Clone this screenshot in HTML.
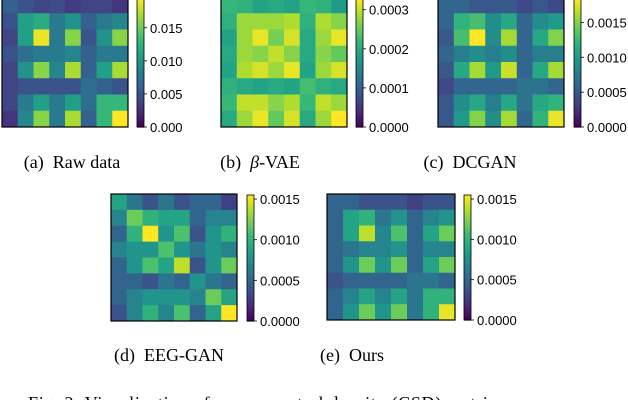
<!DOCTYPE html>
<html><head><meta charset="utf-8"><style>
html,body{margin:0;padding:0;background:#fff;width:628px;height:400px;overflow:hidden}
svg{display:block}
.cap{font-family:"Liberation Serif",serif;font-size:18px;fill:#000}
.tk{font-family:"Liberation Sans",sans-serif;font-size:13px;fill:#000}
</style></head><body>
<svg id="fig" width="628" height="400" xmlns="http://www.w3.org/2000/svg"></svg>
<script>
const rawData=[[.006,.005,.004,.0045,.0035,.004,.004,.003],[.005,.011,.012,.008,.010,.006,.008,.009],[.004,.011,.019,.008,.016,.005,.010,.016],[.005,.007,.008,.008,.009,.006,.008,.008],[.004,.010,.016,.009,.017,.006,.011,.017],[.004,.005,.005,.005,.005,.007,.006,.005],[.004,.008,.011,.008,.011,.007,.013,.013],[.003,.009,.016,.008,.017,.006,.013,.0195]];
const vaeData=[[.00022,.00021,.00019,.0002,.00019,.00022,.00021,.00018],[.00021,.00028,.00028,.00028,.00029,.00021,.00029,.00027],[.00019,.00028,.00032,.00026,.00031,.0002,.00028,.00032],[.0002,.00028,.00027,.0003,.00027,.0002,.00027,.00025],[.00019,.00029,.00031,.00028,.00032,.00019,.00028,.00031],[.00021,.0002,.00019,.0002,.00019,.00023,.00021,.0002],[.00022,.0003,.0003,.00027,.00029,.00022,.0003,.00028],[.0002,.00028,.00032,.00025,.00031,.0002,.00028,.00033]];
const dcganData=[[.0006,.0006,.0005,.0005,.0005,.0004,.0005,.0004],[.0006,.0012,.0013,.0009,.0011,.0006,.0009,.001],[.0005,.0013,.00185,.0009,.0016,.0006,.0011,.0015],[.0006,.0008,.0009,.0008,.0009,.0006,.0008,.0008],[.0005,.0011,.0016,.001,.0017,.0006,.0011,.0016],[.0004,.0006,.0006,.0006,.0006,.0007,.0007,.0006],[.0005,.0009,.0011,.0008,.0011,.0007,.0011,.0012],[.0005,.001,.0015,.0009,.0016,.0006,.0012,.0018]];
const eegganData=[[.0009,.0006,.0004,.0006,.0004,.0005,.0005,.0003],[.0007,.0012,.001,.0009,.0009,.0005,.0007,.0007],[.0005,.001,.00155,.0008,.0011,.0004,.0008,.001],[.0007,.0008,.0008,.0011,.0008,.0006,.0008,.0007],[.0005,.0008,.0011,.0009,.0014,.0004,.0008,.0012],[.0005,.0005,.0004,.0006,.0005,.0008,.0006,.0005],[.0005,.0007,.0008,.0008,.0008,.0007,.0012,.0009],[.0004,.0007,.001,.0007,.0011,.0005,.0009,.00155]];
const oursData=[[.0005,.0005,.0004,.0004,.0004,.0003,.0004,.0004],[.0005,.0009,.001,.0006,.0008,.0005,.0007,.0008],[.0005,.0009,.0014,.0007,.0011,.0005,.0009,.0012],[.0005,.0006,.0007,.0007,.0008,.0005,.0007,.0007],[.0005,.0008,.0012,.0008,.0012,.0005,.0009,.0012],[.0004,.0005,.0005,.0005,.0005,.0006,.0006,.0005],[.0005,.0007,.0009,.0007,.0009,.0006,.001,.001],[.0005,.0008,.0012,.0008,.0012,.0006,.001,.0015]];
const rawTicks=["0.000","0.005","0.010","0.015"];
const vaeTicks=["0.0000","0.0001","0.0002","0.0003"];
const ganTicks=["0.0000","0.0005","0.0010","0.0015"];
const vmaxes=[0.0195,0.00033,0.00185,0.00155,0.00155];

const VIR=[[68,1,84],[72,40,120],[62,74,137],[49,104,142],[38,130,142],[31,158,137],[53,183,121],[109,205,89],[180,222,44],[253,231,37]];
function viridis(t){t=Math.max(0,Math.min(1,t));const f=t*(VIR.length-1),i=Math.min(Math.floor(f),VIR.length-2),r=f-i;
const c=VIR[i].map((v,k)=>Math.round(v+(VIR[i+1][k]-v)*r));return `rgb(${c})`;}
const NS="http://www.w3.org/2000/svg",svg=document.getElementById('fig');
function el(t,a,p){const e=document.createElementNS(NS,t);for(const k in a)e.setAttribute(k,a[k]);(p||svg).appendChild(e);return e;}
function panel(name,data,ticks,vmax,x0,y0,x1,y1,cbx,cap,capX,capY){
 const g=el('g',{});
 
 
 const n=data.length,cw=(x1-x0)/n,ch=(y1-y0)/n;
 data.forEach((row,r)=>row.forEach((v,c)=>{
  const rc=el('rect',{x:x0+c*cw,y:y0+r*ch,width:cw+0.5,height:ch+0.5,fill:viridis(v/vmax)},g);
  
  
 }));
 const fr=el('rect',{x:x0,y:y0,width:x1-x0,height:y1-y0,fill:'none',stroke:'#000','stroke-width':1.2},g);
 
 
 const cb=el('g',{},g);
 
 
 const cbT=y0+1,cbB=y1,cbw=7;
 for(let i=0;i<60;i++){const t=i/60;el('rect',{x:cbx,y:cbB-(i+1)*(cbB-cbT)/60,width:cbw,height:(cbB-cbT)/60+0.6,fill:viridis(t+0.5/60)},cb);}
 el('rect',{x:cbx,y:cbT,width:cbw,height:cbB-cbT,fill:'none',stroke:'#000','stroke-width':0.8},cb);
 ticks.forEach(s=>{const v=parseFloat(s),y=cbB-(v/vmax)*(cbB-cbT);
  el('line',{x1:cbx+cbw,x2:cbx+cbw+3,y1:y,y2:y,stroke:'#000','stroke-width':0.8},cb);
  const t=el('text',{x:cbx+cbw+6,y:y+5,class:'tk'},cb);t.textContent=s;
  
  });
 const ct=el('text',{x:capX,y:capY,class:'cap','text-anchor':'middle'},g);ct.innerHTML=cap;
 
 
}
panel('raw-data',rawData,rawTicks,vmaxes[0],2,-3,128,127,137,'(a)&#160; Raw data',72,168);
panel('beta-vae',vaeData,vaeTicks,vmaxes[1],221,-3,347,127,356,'(b)&#160; <tspan font-style="italic">β</tspan>-VAE',260,168);
panel('dcgan',dcganData,ganTicks,vmaxes[2],438,-3,564,127,574,'(c)&#160; DCGAN',470,168);
panel('eeg-gan',eegganData,ganTicks,vmaxes[3],111,194,237,321,247,'(d)&#160; EEG-GAN',169,361);
panel('ours',oursData,ganTicks,vmaxes[4],327,194,455,320,464,'(e)&#160; Ours',352,361);
const fc=el('text',{x:28,y:409,class:'cap',textLength:485,lengthAdjust:'spacing'});fc.textContent='Fig. 2:  Visualization of cross-spectral density (CSD) matrices';


</script>
</body></html>
